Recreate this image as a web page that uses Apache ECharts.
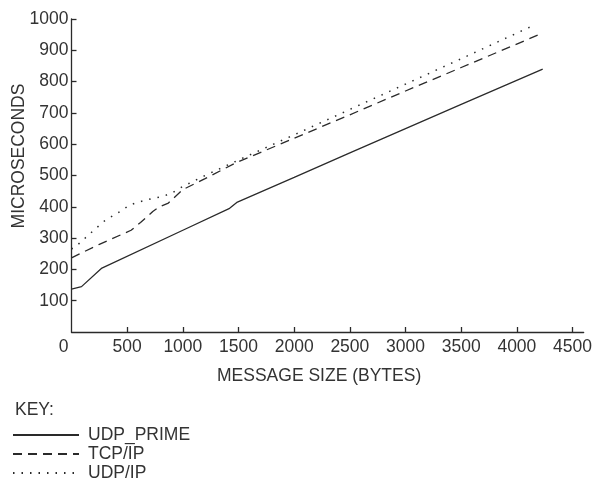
<!DOCTYPE html>
<html>
<head>
<meta charset="utf-8">
<script src="https://cdn.jsdelivr.net/npm/echarts@6/dist/echarts.min.js"></script>
<style>html,body{margin:0;padding:0;background:#fff;}#c{width:595px;height:493px;}</style>
</head>
<body>
<div id="c"></div>
<script>
const seriesNames = ['UDP_PRIME', 'TCP/IP', 'UDP/IP'];
const sizesPrime = [0, 90, 268, 1000, 1420, 1490, 2000, 2500, 3000, 3500, 4232];
const udpPrime   = [137, 145, 203, 325, 395, 415, 494, 572, 650, 727, 840];
const sizesTcp = [0, 250, 535, 620, 730, 790, 870, 1000, 1200, 1467, 2000, 2500, 3000, 3500, 4232];
const tcpIp    = [237, 280, 325, 350, 385, 400, 412, 455, 490, 539, 619, 694, 770, 845, 955];
const sizesUdp = [0, 60, 200, 300, 450, 520, 600, 730, 830, 920, 1000, 1200, 1467, 2000, 2500, 3000, 3500, 4146];
const udpIp    = [265, 280, 325, 356, 388, 405, 415, 427, 434, 448, 465, 500, 544, 630, 711, 792, 873, 979];
const xTicks = [0, 500, 1000, 1500, 2000, 2500, 3000, 3500, 4000, 4500];
const yTicks = [100, 200, 300, 400, 500, 600, 700, 800, 900, 1000];
const xTitle = 'MESSAGE SIZE (BYTES)';
const yTitle = 'MICROSECONDS';
const keyTitle = 'KEY:';

const pair = (xs, ys) => xs.map((x, i) => [x, ys[i]]);
const font = 'Liberation Sans, Arial, Helvetica, sans-serif';
const ink = '#2a2a2a';

const chart = echarts.init(document.getElementById('c'), null, {renderer: 'canvas'});
chart.setOption({
  animation: false,
  backgroundColor: '#fff',
  title: {
    text: keyTitle, left: 10, top: 396,
    textStyle: {fontFamily: font, fontSize: 17.5, fontWeight: 'normal', color: '#333'}
  },
  grid: {left: 71.5, right: 6.5, top: 19, bottom: 161},
  xAxis: {
    type: 'value', min: 0, max: 4600, interval: 500,
    axisLine: {show: true, lineStyle: {color: ink, width: 1.3}},
    axisTick: {show: true, inside: true, length: 5, customValues: xTicks.slice(1), lineStyle: {color: ink, width: 1.3}},
    axisLabel: {
      customValues: xTicks, margin: 6, color: '#333', fontFamily: font, fontSize: 17.5,
      formatter: v => v === 0 ? '{z|0}' : String(v),
      rich: {z: {padding: [0, 16, 0, 0], fontFamily: font, fontSize: 17.5, color: '#333'}}
    },
    splitLine: {show: false}
  },
  yAxis: {
    type: 'value', min: 0, max: 1000, interval: 100,
    axisLine: {show: true, lineStyle: {color: ink, width: 1.3}},
    axisTick: {show: true, inside: true, length: 5, customValues: yTicks, lineStyle: {color: ink, width: 1.3}},
    axisLabel: {customValues: yTicks, margin: 3, color: '#333', fontFamily: font, fontSize: 17.5,
      formatter: v => String(v)},
    splitLine: {show: false}
  },
  legend: {
    orient: 'vertical', left: 12, top: 426, itemWidth: 66, itemHeight: 12, itemGap: 1,
    padding: 0,
    data: seriesNames,
    itemStyle: {opacity: 0},
    textStyle: {fontFamily: font, fontSize: 17.5, color: '#333', padding: [0, 0, 0, 4]}
  },
  graphic: [
    {type: 'text', left: 217, top: 367, style: {text: xTitle, font: '17.5px ' + font, fill: '#333'}},
    {type: 'text', x: 19, y: 156, rotation: Math.PI / 2,
     style: {text: yTitle, font: '17.5px ' + font, fill: '#333', align: 'center', verticalAlign: 'middle'}}
  ],
  series: [
    {name: seriesNames[0], type: 'line', data: pair(sizesPrime, udpPrime), symbol: 'none', showSymbol: false,
     lineStyle: {color: ink, width: 1.3, type: 'solid'}, itemStyle: {color: ink}},
    {name: seriesNames[1], type: 'line', data: pair(sizesTcp, tcpIp), symbol: 'none', showSymbol: false,
     lineStyle: {color: ink, width: 1.3, type: [9, 6]}, itemStyle: {color: ink}},
    {name: seriesNames[2], type: 'line', data: pair(sizesUdp, udpIp), symbol: 'none', showSymbol: false,
     lineStyle: {color: ink, width: 1.5, type: [1.5, 7]}, itemStyle: {color: ink}}
  ]
});
</script>
</body>
</html>
